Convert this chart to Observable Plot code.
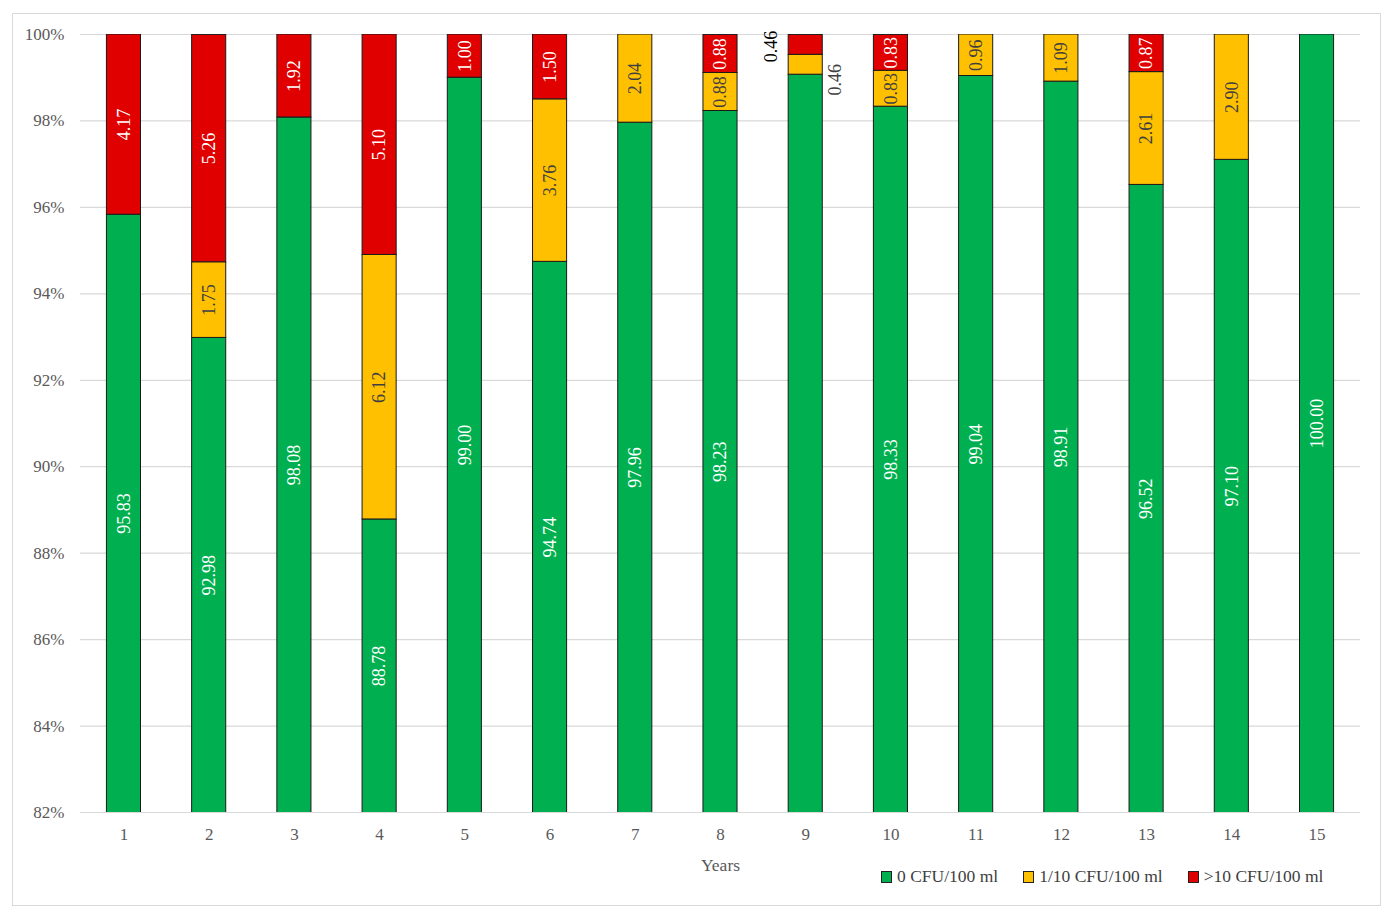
<!DOCTYPE html>
<html><head><meta charset="utf-8">
<script src="https://cdn.jsdelivr.net/npm/d3@7"></script>
<script src="https://cdn.jsdelivr.net/npm/@observablehq/plot@0.6"></script>
<style>
body{margin:0;background:#fff;font-family:"Palatino Linotype","Book Antiqua","Liberation Serif","DejaVu Serif",serif;}
#frame{position:absolute;left:12px;top:13px;width:1369px;height:893px;border:1px solid #d9d9d9;box-sizing:border-box;}
#chart{position:absolute;left:0;top:0;}
#legend{position:absolute;top:852px;left:868px;display:flex;gap:25px;font-size:17.5px;color:#404040;}
#legend span.i{display:flex;align-items:center;}
#legend b{display:inline-block;width:9px;height:10px;border:1px solid #222;margin-right:5px;}
</style></head>
<body>
<div id="frame"><div id="chart"></div>
<div id="legend">
<span class="i"><b style="background:#00b050"></b>0 CFU/100 ml</span>
<span class="i"><b style="background:#ffc000"></b>1/10 CFU/100 ml</span>
<span class="i"><b style="background:#e00000"></b>&gt;10 CFU/100 ml</span>
</div></div>
<script>
const years = [1,2,3,4,5,6,7,8,9,10,11,12,13,14,15];
const series = ["0 CFU/100 ml","1/10 CFU/100 ml",">10 CFU/100 ml"];
const colors = ["#00b050","#ffc000","#e00000"];
const zero = [95.83,92.98,98.08,88.78,99.00,94.74,97.96,98.23,99.07,98.33,99.04,98.91,96.52,97.10,100.00];
const low  = [0,1.75,0,6.12,0,3.76,2.04,0.88,0.46,0.83,0.96,1.09,2.61,2.90,0];
const high = [4.17,5.26,1.92,5.10,1.00,1.50,0,0.88,0.46,0.83,0,0,0.87,0,0];
const yTicks = [82,84,86,88,90,92,94,96,98,100];
const outsideYear = 9;

const vals = [zero, low, high];
const rows = [];
series.forEach((s, k) => years.forEach((yr, i) => rows.push({year: yr, series: s, k, value: vals[k][i]})));

const labels = [];
years.forEach((yr, i) => {
  let base = 0;
  vals.forEach((arr, k) => {
    const v = arr[i];
    const y1 = base, y2 = base + v;
    base = y2;
    if (v <= 0) return;
    const lo = Math.max(y1, 82);
    labels.push({year: yr, k, text: v.toFixed(2), mid: (lo + y2) / 2, y2, outside: yr === outsideYear});
  });
});
const inside = labels.filter(d => !d.outside);
const outRed = labels.filter(d => d.outside && d.k === 2);
const outYel = labels.filter(d => d.outside && d.k === 1);

const font = '"Palatino Linotype","Book Antiqua","Liberation Serif","DejaVu Serif",serif';

const plot = Plot.plot({
  width: 1367, height: 860,
  marginLeft: 67, marginRight: 20, marginTop: 20, marginBottom: 62,
  style: {fontFamily: font, fontSize: "17px", color: "#595959", background: "transparent"},
  x: {type: "band", domain: years, paddingInner: 0.6, paddingOuter: 0.31, round: false, label: null},
  y: {domain: [82, 100], label: null},
  color: {domain: series, range: colors},
  marks: [
    Plot.ruleY(yTicks, {stroke: "#d9d9d9", strokeWidth: 1.2}),
    Plot.barY(rows, {x: "year", y: "value", fill: "series", stroke: "#1a1a1a", strokeWidth: 1, clip: true, order: null}),
    Plot.axisY({ticks: yTicks, tickSize: 0, tickPadding: 16, tickFormat: d => d + "%", fontSize: 17, fill: "#595959", label: null}),
    Plot.axisX({tickSize: 0, tickPadding: 15, fontSize: 17, fill: "#595959", label: null}),
    Plot.text(inside, {x: "year", y: "mid", text: "text", rotate: -90, fontSize: 18, fill: d => d.k === 1 ? "#404040" : "#ffffff"}),
    Plot.text(outRed, {x: "year", y: 100, text: "text", rotate: -90, fontSize: 18, fill: "#000", dx: -34, dy: 12}),
    Plot.text(outYel, {x: "year", y: "mid", text: "text", rotate: -90, fontSize: 18, fill: "#404040", dx: 30, dy: 15}),
    Plot.text(["Years"], {frameAnchor: "bottom", dy: 58, fontSize: 17.5, fill: "#595959"})
  ]
});
document.getElementById("chart").appendChild(plot);
</script>
</body></html>
